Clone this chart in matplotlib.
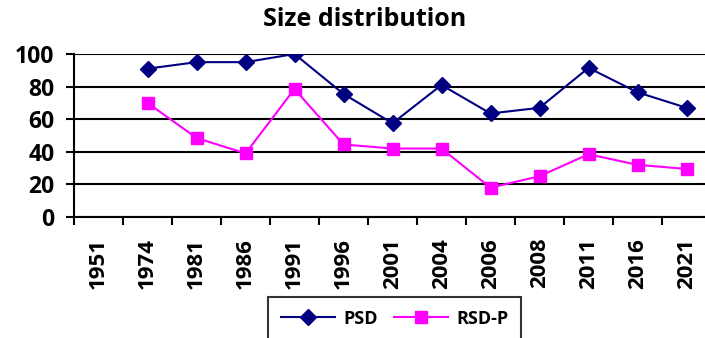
import numpy as np
import matplotlib.pyplot as plt
from matplotlib.ticker import FixedLocator

plt.rcParams['font.family'] = ['Open Sans', 'DejaVu Sans']
plt.rcParams['font.weight'] = 'bold'

# datos
years = ['1951', '1974', '1981', '1986', '1991', '1996', '2001',
         '2004', '2006', '2008', '2011', '2016', '2021']
psd = [np.nan, 91, 95, 95, 100, 75.5, 57.5, 81, 63.5, 67, 91.5, 76.5, 67]
rsd_p = [np.nan, 70, 48.5, 39, 78.5, 44.5, 42, 42, 18, 25, 38.5, 32, 29.5]

fig = plt.figure(figsize=(7.05, 3.38), dpi=100)
ax = fig.add_axes([74/705, 121/338, 637/705, 163/338])

x = np.arange(len(years))
ax.plot(x, psd, color='#000080', lw=1.5, marker='D', ms=8, label='PSD')
ax.plot(x, rsd_p, color='#FF00FF', lw=1.5, marker='s', ms=8.5, label='RSD-P')

ax.set_xlim(-0.5, len(years) - 0.5)
ax.set_ylim(0, 100)
ax.set_yticks(range(0, 101, 20))
ax.yaxis.grid(True, color='black', lw=1.5)
ax.set_axisbelow(True)

ax.set_xticks(x)
ax.set_xticklabels(years, rotation=90, fontsize=16, fontweight='bold')
ax.xaxis.set_minor_locator(FixedLocator(np.arange(-0.5, len(years), 1)))
ax.tick_params(axis='x', which='major', length=0, pad=15)
ax.tick_params(axis='x', which='minor', length=6, width=1.5, color='black')
ax.tick_params(axis='y', length=6, width=1.5, pad=8, labelsize=16.5)
for lab in ax.get_yticklabels():
    lab.set_fontweight('bold')

for s in ['top', 'right']:
    ax.spines[s].set_visible(False)
for s in ['left', 'bottom']:
    ax.spines[s].set_linewidth(1.5)
    ax.spines[s].set_color('black')

fig.text(365/705, 1 - 20/338, 'Size distribution', ha='center', va='center',
         fontsize=18, fontweight='bold')

leg = fig.legend(loc='upper left', bbox_to_anchor=(268/705, 1 - 297/338),
                 ncol=2, fontsize=13, frameon=True, fancybox=False,
                 edgecolor='black', handlelength=3.0, handletextpad=0.45,
                 columnspacing=0.9, borderpad=0.7, borderaxespad=0)
leg.get_frame().set_linewidth(1.5)
for t in leg.get_texts():
    t.set_fontweight('bold')

fig.savefig('out.png', dpi=100)
